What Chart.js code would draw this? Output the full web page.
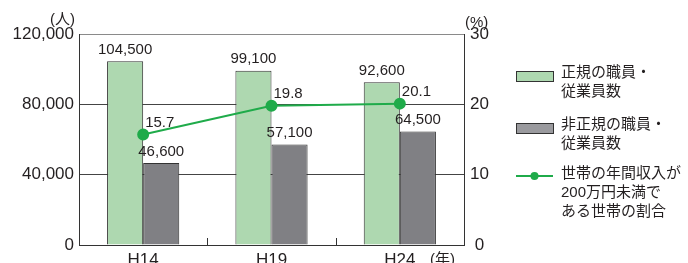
<!DOCTYPE html>
<html>
<head>
<meta charset="utf-8">
<script src="https://cdn.jsdelivr.net/npm/chart.js@4/dist/chart.umd.min.js"></script>
<style>
  body { margin: 0; background: #fff; }
  #wrap { position: relative; width: 688px; height: 263px; overflow: hidden;
    font-family: 'Liberation Sans', 'Noto Sans CJK JP', sans-serif; color: #231f20; }
  canvas { position: absolute; left: 0; top: 0; }
  .unit { position: absolute; font-size: 15px; line-height: 16px; }
  .leg { position: absolute; left: 516px; font-size: 15px; line-height: 19px; }
  .leg .box { position: absolute; left: 0; top: 2px; width: 36px; height: 9px; border: 1px solid #333; }
  .leg .txt { position: absolute; left: 45px; top: -7px; white-space: nowrap; }
</style>
</head>
<body>
<div id="wrap">
  <canvas id="grafico" width="688" height="263"></canvas>
  <div class="unit" style="left:50px;top:11px;">(人)</div>
  <div class="unit" style="left:465px;top:14px;">(%)</div>
  <div class="unit" style="left:430px;top:251px;">(年)</div>
  <div id="legenda"></div>
</div>
<script>
const anos = ['H14', 'H19', 'H24'];
const regulares = [104500, 99100, 92600];
const naoRegulares = [46600, 57100, 64500];
const percentual = [15.7, 19.8, 20.1];
const ticksPessoas = [0, 40000, 80000, 120000];
const ticksPercentual = [0, 10, 20, 30];

const corVerde = '#aed8b0';
const corCinza = '#808084';
const corLinha = '#1fab4a';
const fonte = "'Liberation Sans', 'Noto Sans CJK JP', sans-serif";

const legendaItens = [
  { tipo: 'box', cor: corVerde, texto: '正規の職員・<br>従業員数', top: 69 },
  { tipo: 'box', cor: '#9a9a9e', texto: '非正規の職員・<br>従業員数', top: 121 },
  { tipo: 'linha', cor: corLinha, texto: '世帯の年間収入が<br>200万円未満で<br>ある世帯の割合', top: 170 },
];

const legenda = document.getElementById('legenda');
legendaItens.forEach((item) => {
  const div = document.createElement('div');
  div.className = 'leg';
  div.style.top = item.top + 'px';
  if (item.tipo === 'box') {
    div.innerHTML = `<div class="box" style="background:${item.cor}"></div><div class="txt">${item.texto}</div>`;
  } else {
    div.innerHTML = `<svg width="40" height="12" style="position:absolute;left:0;top:0">
      <line x1="0" y1="6" x2="37" y2="6" stroke="${item.cor}" stroke-width="2"/>
      <circle cx="18.5" cy="6" r="4" fill="${item.cor}"/></svg>
      <div class="txt">${item.texto}</div>`;
  }
  legenda.appendChild(div);
});

const fmt = (v) => v.toLocaleString('en-US');

// valores sobre as barras e sobre os pontos
const rotulos = {
  id: 'rotulos',
  afterDatasetsDraw(chart) {
    const ctx = chart.ctx;
    ctx.save();
    ctx.font = '15px ' + fonte;
    ctx.fillStyle = '#231f20';
    [0, 1].forEach((d) => {
      chart.getDatasetMeta(d).data.forEach((bar, i) => {
        ctx.textAlign = 'center';
        ctx.textBaseline = 'bottom';
        ctx.fillText(fmt(chart.data.datasets[d].data[i]), bar.x, bar.y - 4);
      });
    });
    chart.getDatasetMeta(2).data.forEach((pt, i) => {
      ctx.textAlign = 'left';
      ctx.textBaseline = 'alphabetic';
      ctx.fillText(percentual[i].toFixed(1), pt.x + 2, pt.y - 8);
    });
    ctx.restore();
  },
};

// pequenos traços entre categorias
const tracos = {
  id: 'tracos',
  afterDraw(chart) {
    const x = chart.scales.x;
    const ctx = chart.ctx;
    const base = chart.chartArea.bottom;
    ctx.save();
    ctx.strokeStyle = '#333';
    ctx.lineWidth = 1;
    for (let i = 0; i < anos.length - 1; i++) {
      const px = Math.round((x.getPixelForValue(i) + x.getPixelForValue(i + 1)) / 2) + 0.5;
      ctx.beginPath();
      ctx.moveTo(px, base);
      ctx.lineTo(px, base - 7);
      ctx.stroke();
    }
    ctx.restore();
  },
};

new Chart(document.getElementById('grafico'), {
  data: {
    labels: anos,
    datasets: [
      {
        type: 'bar',
        data: regulares,
        backgroundColor: corVerde,
        borderColor: '#333',
        borderWidth: 1,
        yAxisID: 'y',
        categoryPercentage: 0.5625,
        barPercentage: 1.0,
        order: 2,
      },
      {
        type: 'bar',
        data: naoRegulares,
        backgroundColor: corCinza,
        borderColor: '#333',
        borderWidth: 1,
        yAxisID: 'y',
        categoryPercentage: 0.5625,
        barPercentage: 1.0,
        order: 2,
      },
      {
        type: 'line',
        data: percentual,
        borderColor: corLinha,
        backgroundColor: corLinha,
        borderWidth: 2,
        pointRadius: 5,
        pointHoverRadius: 5,
        yAxisID: 'y1',
        order: 1,
      },
    ],
  },
  options: {
    responsive: false,
    animation: false,
    events: [],
    layout: { padding: { top: 34, right: 184, bottom: 0, left: 0 } },
    plugins: { legend: { display: false }, tooltip: { enabled: false } },
    scales: {
      x: {
        grid: { display: false, drawTicks: false },
        border: { color: '#333', width: 1 },
        ticks: { color: '#231f20', font: { size: 17, family: fonte }, padding: 5 },
        afterFit: (s) => { s.height = 18; },
      },
      y: {
        position: 'left',
        min: 0,
        max: 120000,
        afterBuildTicks: (s) => { s.ticks = ticksPessoas.map((v) => ({ value: v })); },
        grid: {
          drawTicks: false,
          color: (c) => (c.tick && c.tick.value === 120000 ? '#8a8a8a' : '#444'),
          lineWidth: 1,
        },
        border: { color: '#333', width: 1 },
        ticks: {
          color: '#231f20',
          font: { size: 17, family: fonte },
          padding: 5,
          callback: (v) => fmt(v),
        },
        afterFit: (s) => { s.width = 79; },
      },
      y1: {
        position: 'right',
        min: 0,
        max: 30,
        afterBuildTicks: (s) => { s.ticks = ticksPercentual.map((v) => ({ value: v })); },
        grid: { drawOnChartArea: false, drawTicks: false },
        border: { color: '#333', width: 1 },
        ticks: {
          color: '#231f20',
          font: { size: 17, family: fonte },
          padding: 6,
          crossAlign: 'center',
        },
        afterFit: (s) => { s.width = 40; },
      },
    },
  },
  plugins: [rotulos, tracos],
});
</script>
</body>
</html>
